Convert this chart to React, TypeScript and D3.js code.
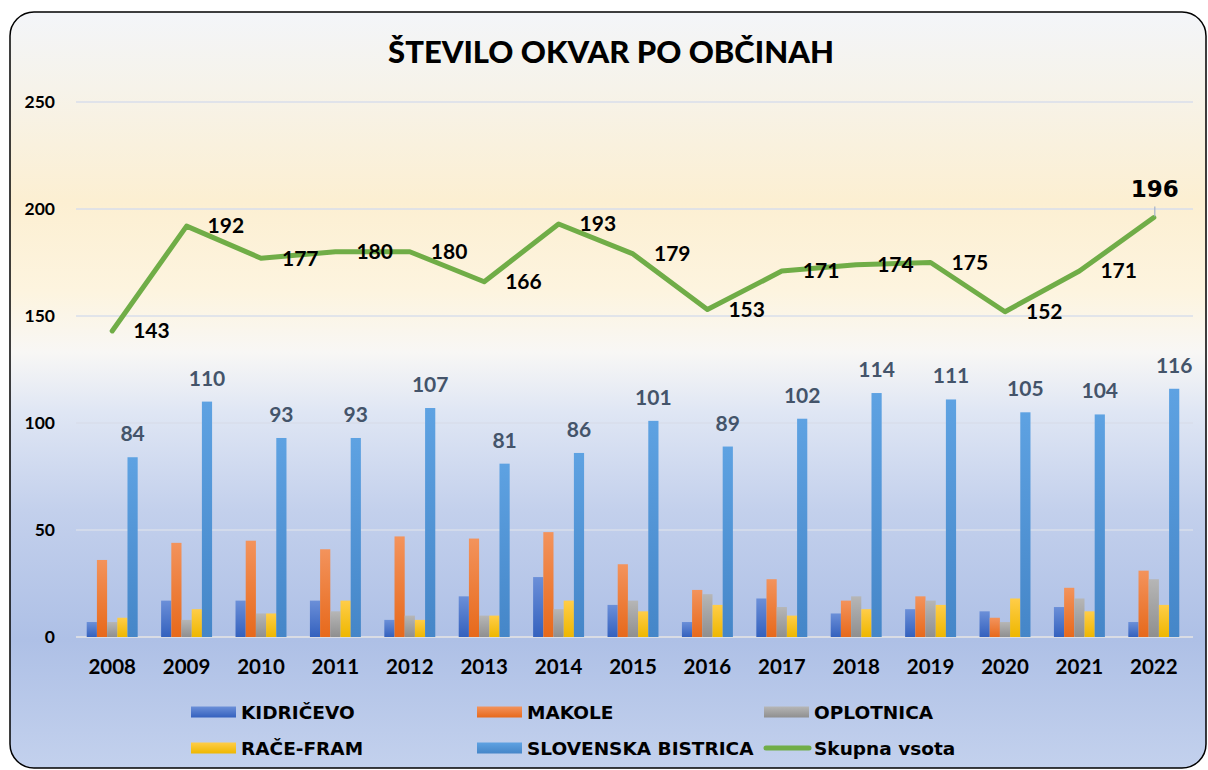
import React from 'react';
import * as d3 from 'd3';

const years = ['2008', '2009', '2010', '2011', '2012', '2013', '2014', '2015', '2016', '2017', '2018', '2019', '2020', '2021', '2022'];
const kidricevo = [7, 17, 17, 17, 8, 19, 28, 15, 7, 18, 11, 13, 12, 14, 7];
const makole = [36, 44, 45, 41, 47, 46, 49, 34, 22, 27, 17, 19, 9, 23, 31];
const oplotnica = [7, 8, 11, 12, 10, 10, 13, 17, 20, 14, 19, 17, 7, 18, 27];
const raceFram = [9, 13, 11, 17, 8, 10, 17, 12, 15, 10, 13, 15, 18, 12, 15];
const slovenskaBistrica = [84, 110, 93, 93, 107, 81, 86, 101, 89, 102, 114, 111, 105, 104, 116];
const skupnaVsota = [143, 192, 177, 180, 180, 166, 193, 179, 153, 171, 174, 175, 152, 171, 196];
const yTicks = [0, 50, 100, 150, 200, 250];
const title = 'ŠTEVILO OKVAR PO OBČINAH';

const barSeries = [
  { key: 'KIDRIČEVO', values: kidricevo, top: '#6b8fd8', bottom: '#3461be' },
  { key: 'MAKOLE', values: makole, top: '#f3935c', bottom: '#e7691b' },
  { key: 'OPLOTNICA', values: oplotnica, top: '#b6b6b6', bottom: '#8f8f8f' },
  { key: 'RAČE-FRAM', values: raceFram, top: '#ffcd48', bottom: '#eeb700' },
  { key: 'SLOVENSKA BISTRICA', values: slovenskaBistrica, top: '#5ea2e2', bottom: '#4586c8' },
];
const lineName = 'Skupna vsota';

const W = 1208;
const H = 770;
const plotLeft = 75;
const plotRight = 1191;
const plotTop = 102;
const plotBottom = 637;

export default function App() {
  const x0 = d3.scaleBand<string>().domain(years).range([plotLeft, plotRight]).paddingInner(0.315).paddingOuter(0.1575);
  const x1 = d3.scaleBand<string>().domain(barSeries.map((s) => s.key)).range([0, x0.bandwidth()]);
  const y = d3.scaleLinear().domain([0, 250]).range([plotBottom, plotTop]);
  const cx = (yr: string) => (x0(yr) as number) + x0.bandwidth() / 2;

  const linePath = d3
    .line<number>()
    .x((_, i) => cx(years[i]))
    .y((d) => y(d))(skupnaVsota) as string;

  const labelFont = 'Lato, "Open Sans", sans-serif';
  const legendFont = '"DejaVu Sans", Verdana, sans-serif';

  const legendItems = [
    { key: barSeries[0].key, col: 0, row: 0, type: 'bar', s: barSeries[0] },
    { key: barSeries[1].key, col: 1, row: 0, type: 'bar', s: barSeries[1] },
    { key: barSeries[2].key, col: 2, row: 0, type: 'bar', s: barSeries[2] },
    { key: barSeries[3].key, col: 0, row: 1, type: 'bar', s: barSeries[3] },
    { key: barSeries[4].key, col: 1, row: 1, type: 'bar', s: barSeries[4] },
    { key: lineName, col: 2, row: 1, type: 'line', s: null as any },
  ];
  const legendColX = [191, 477, 764];
  const legendRowY = [712, 748];

  return (
    <svg width={W} height={H} style={{ position: 'absolute', left: 0, top: 0 }}>
      <defs>
        <linearGradient id="bg" x1="0" y1="0" x2="0" y2="1">
          <stop offset="0" stopColor="#f3f5f9" />
          <stop offset="0.1" stopColor="#f6f3ea" />
          <stop offset="0.25" stopColor="#fcefd2" />
          <stop offset="0.37" stopColor="#fdf4df" />
          <stop offset="0.45" stopColor="#f8f7f5" />
          <stop offset="0.53" stopColor="#dfe6f4" />
          <stop offset="0.66" stopColor="#c3d0ec" />
          <stop offset="0.83" stopColor="#aec0e6" />
          <stop offset="1" stopColor="#c3d1ed" />
        </linearGradient>
        {barSeries.map((s, i) => (
          <linearGradient key={s.key} id={`bar${i}`} x1="0" y1="0" x2="0" y2="1">
            <stop offset="0" stopColor={s.top} />
            <stop offset="1" stopColor={s.bottom} />
          </linearGradient>
        ))}
      </defs>
      <rect x={10} y={12} width={1196} height={756} rx={24} ry={24} fill="url(#bg)" stroke="#000" strokeWidth={1.5} />

      <text x={611} y={63} textAnchor="middle" fontFamily={labelFont} fontWeight={900} fontSize={31} fill="#000">
        {title}
      </text>

      {yTicks.map((t) => (
        <g key={t}>
          <line x1={plotLeft + 1} x2={plotRight + 2} y1={y(t)} y2={y(t)} stroke={t === 0 ? '#d9dce4' : '#d8deeb'} strokeWidth={t === 0 ? 2.2 : 1.5} />
          <text x={55} y={y(t)} dy="0.35em" textAnchor="end" fontFamily={labelFont} fontWeight={700} fontSize={17.5} fill="#000">
            {t}
          </text>
        </g>
      ))}

      {years.map((yr, i) => (
        <g key={yr}>
          {barSeries.map((s, k) => (
            <rect
              key={s.key}
              x={(x0(yr) as number) + (x1(s.key) as number)}
              y={y(s.values[i])}
              width={x1.bandwidth()}
              height={y(0) - y(s.values[i])}
              fill={`url(#bar${k})`}
            />
          ))}
          <text x={cx(yr)} y={674} textAnchor="middle" fontFamily={labelFont} fontWeight={700} fontSize={20.5} fill="#000">
            {yr}
          </text>
          <text
            x={(x0(yr) as number) + (x1(barSeries[4].key) as number) + x1.bandwidth() / 2}
            y={y(slovenskaBistrica[i]) - 16}
            textAnchor="middle"
            fontFamily={labelFont}
            fontWeight={700}
            fontSize={21}
            fill="#44546a"
          >
            {slovenskaBistrica[i]}
          </text>
        </g>
      ))}

      <path d={linePath} fill="none" stroke="#70ad47" strokeWidth={5} strokeLinejoin="round" strokeLinecap="round" />

      {skupnaVsota.map((v, i) =>
        i === skupnaVsota.length - 1 ? (
          <g key={i}>
            <line x1={cx(years[i]) + 1} x2={cx(years[i]) + 1} y1={y(v) - 11} y2={y(v) - 1} stroke="#a3b1c8" strokeWidth={1.2} />
            <text x={cx(years[i]) + 1} y={197} textAnchor="middle" fontFamily={legendFont} fontWeight={700} fontSize={23} fill="#000">
              {v}
            </text>
          </g>
        ) : (
          <text key={i} x={cx(years[i]) + 21} y={y(v)} dy="0.35em" fontFamily={labelFont} fontWeight={700} fontSize={21} fill="#000">
            {v}
          </text>
        )
      )}

      {legendItems.map((it) => {
        const lx = legendColX[it.col];
        const ly = legendRowY[it.row];
        return (
          <g key={it.key}>
            {it.type === 'bar' ? (
              <rect x={lx} y={ly - 5.5} width={45} height={11} fill={`url(#bar${barSeries.indexOf(it.s)})`} />
            ) : (
              <line x1={lx + 2} x2={lx + 45} y1={ly} y2={ly} stroke="#70ad47" strokeWidth={5} strokeLinecap="round" />
            )}
            <text x={lx + 50} y={ly} dy="0.36em" fontFamily={legendFont} fontWeight={700} fontSize={18.5} fill="#000">
              {it.key}
            </text>
          </g>
        );
      })}
    </svg>
  );
}
